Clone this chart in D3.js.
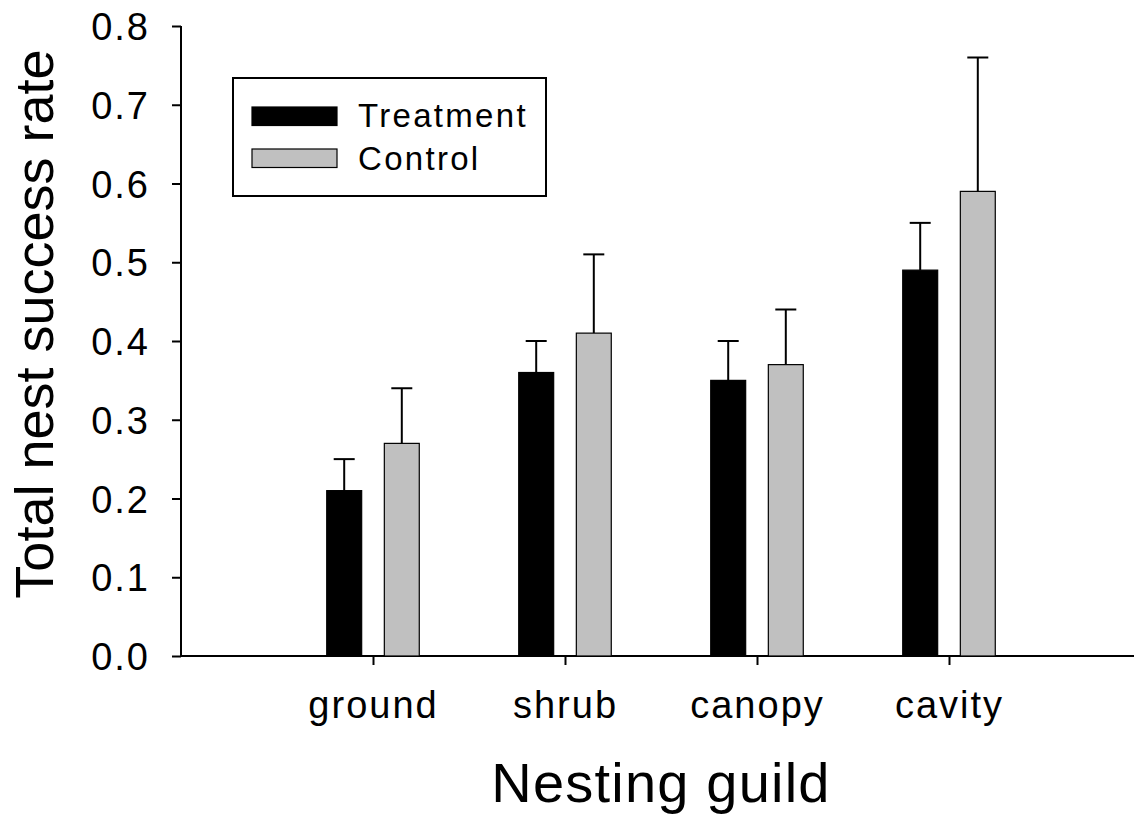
<!DOCTYPE html>
<html>
<head>
<meta charset="utf-8">
<script src="https://cdn.jsdelivr.net/npm/d3@7"></script>
<style>
  html, body { margin: 0; padding: 0; background: #fff; }
  svg { display: block; font-family: "Liberation Sans", Arial, sans-serif; }
</style>
</head>
<body>
<svg id="chart" width="1134" height="817"></svg>
<script>
// Nest success by nesting guild, treatment vs control plots
const guilds = ["ground", "shrub", "canopy", "cavity"];
const treatment = [0.21, 0.36, 0.35, 0.49];
const treatmentErr = [0.04, 0.04, 0.05, 0.06];
const control = [0.27, 0.41, 0.37, 0.59];
const controlErr = [0.07, 0.10, 0.07, 0.17];
const yTicks = [0.0, 0.1, 0.2, 0.3, 0.4, 0.5, 0.6, 0.7, 0.8];
const seriesNames = ["Treatment", "Control"];
const seriesColors = ["#000000", "#c0c0c0"];

const svg = d3.select("#chart");
const plotLeft = 181, plotBottom = 656, plotTop = 26, plotRight = 1141;

const x = d3.scaleLinear().domain([0, guilds.length + 1]).range([plotLeft, plotRight]);
const y = d3.scaleLinear().domain([0, 0.8]).range([plotBottom, plotTop]);

const barW = x(0.182) - x(0);
const offset = x(0.15) - x(0);
const capW = 21;

// Axes
const yAxis = svg.append("g")
  .attr("transform", `translate(${plotLeft},0)`)
  .call(d3.axisLeft(y).tickValues(yTicks).tickFormat(d3.format(".1f")).tickSize(9).tickPadding(22));
const xAxis = svg.append("g")
  .attr("transform", `translate(0,${plotBottom})`)
  .call(d3.axisBottom(x).tickValues(guilds.map((g, i) => i + 1)).tickFormat((d) => guilds[d - 1]).tickSize(9).tickPadding(26));

[yAxis, xAxis].forEach((ax) => {
  ax.select(".domain").attr("stroke", "#000").attr("stroke-width", 2);
  ax.selectAll(".tick line").attr("stroke", "#000").attr("stroke-width", 2);
  ax.selectAll(".tick text")
    .attr("fill", "#000")
    .attr("font-size", 38)
    .attr("letter-spacing", 2)
    .attr("font-family", "Liberation Sans, Arial, sans-serif");
});
xAxis.select(".domain").attr("d", `M${plotLeft},0H${plotRight}`);
yAxis.select(".domain").attr("d", `M0,${y(0.8)}V${plotBottom}`);
xAxis.selectAll(".tick text").attr("dy", null).attr("y", 62);
yAxis.selectAll(".tick text").attr("dy", "0.36em");

// Bars with upper error bars
const series = [
  { vals: treatment, errs: treatmentErr, dx: -offset, color: seriesColors[0] },
  { vals: control, errs: controlErr, dx: offset, color: seriesColors[1] }
];

series.forEach((s) => {
  const g = svg.append("g");
  g.selectAll("line.err").data(s.vals).join("line")
    .attr("class", "err")
    .attr("x1", (d, i) => x(i + 1) + s.dx)
    .attr("x2", (d, i) => x(i + 1) + s.dx)
    .attr("y1", (d) => y(d))
    .attr("y2", (d, i) => y(d + s.errs[i]))
    .attr("stroke", "#000").attr("stroke-width", 2);
  g.selectAll("line.cap").data(s.vals).join("line")
    .attr("class", "cap")
    .attr("x1", (d, i) => x(i + 1) + s.dx - capW / 2)
    .attr("x2", (d, i) => x(i + 1) + s.dx + capW / 2)
    .attr("y1", (d, i) => y(d + s.errs[i]))
    .attr("y2", (d, i) => y(d + s.errs[i]))
    .attr("stroke", "#000").attr("stroke-width", 2);
  g.selectAll("rect").data(s.vals).join("rect")
    .attr("x", (d, i) => x(i + 1) + s.dx - barW / 2)
    .attr("y", (d) => y(d))
    .attr("width", barW)
    .attr("height", (d) => y(0) - y(d))
    .attr("fill", s.color)
    .attr("stroke", "#000").attr("stroke-width", 1.2);
});

// Axis titles
svg.append("text")
  .attr("transform", "translate(53,324) rotate(-90)")
  .attr("text-anchor", "middle")
  .attr("font-size", 54)
  .attr("fill", "#000")
  .text("Total nest success rate");

svg.append("text")
  .attr("x", 661).attr("y", 802)
  .attr("text-anchor", "middle")
  .attr("font-size", 56)
  .attr("letter-spacing", 1.2)
  .attr("fill", "#000")
  .text("Nesting guild");

// Legend
const legend = svg.append("g");
legend.append("rect")
  .attr("x", 233).attr("y", 78).attr("width", 313).attr("height", 118)
  .attr("fill", "#fff").attr("stroke", "#000").attr("stroke-width", 2);
const swatchY = [107, 149];
const labelY = [127, 170];
seriesNames.forEach((name, i) => {
  legend.append("rect")
    .attr("x", 252).attr("y", swatchY[i]).attr("width", 85).attr("height", 18.5)
    .attr("fill", seriesColors[i]).attr("stroke", "#000").attr("stroke-width", 1.2);
  legend.append("text")
    .attr("x", 358).attr("y", labelY[i])
    .attr("font-size", 33)
    .attr("letter-spacing", 2.3)
    .attr("fill", "#000")
    .text(name);
});
</script>
</body>
</html>
